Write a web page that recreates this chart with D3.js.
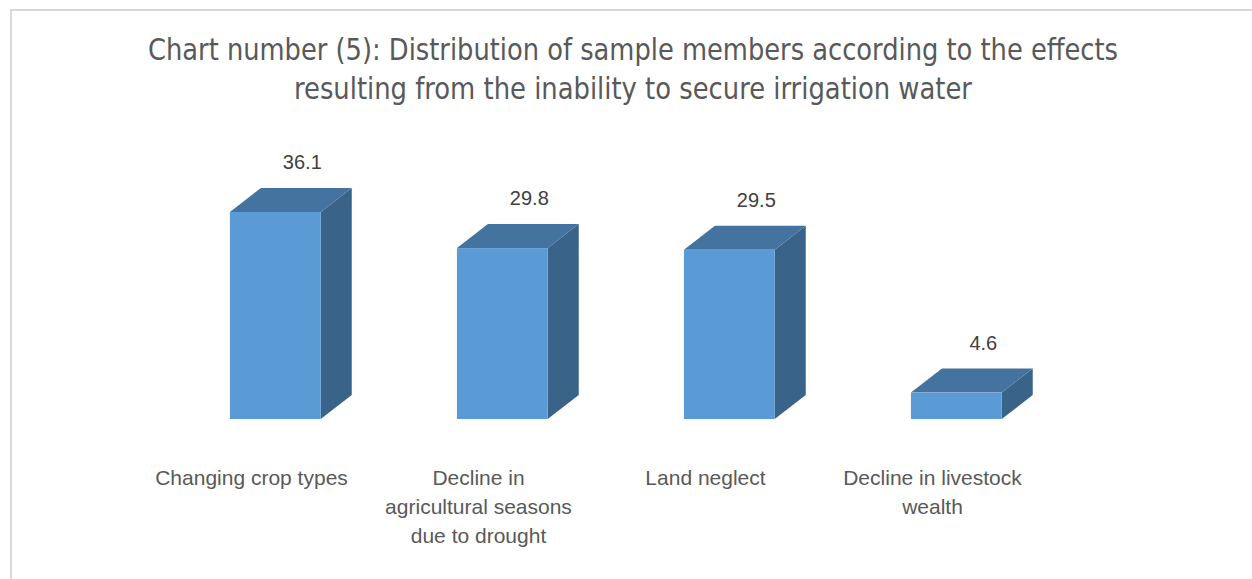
<!DOCTYPE html>
<html lang="en">
<head>
<meta charset="utf-8">
<title>Chart number (5)</title>
<script src="https://cdn.jsdelivr.net/npm/d3@7/dist/d3.min.js"></script>
<style>
  body { margin: 0; background: #fff; }
  .title { font-family: "Liberation Sans Narrow", "DejaVu Sans Condensed", "Liberation Sans", sans-serif; fill: #595959; }
  .lbl { font-family: "Liberation Sans", Arial, sans-serif; fill: #404040; }
  .cat { font-family: "Liberation Sans", Arial, sans-serif; fill: #595959; }
</style>
</head>
<body>
<script>
// data
var categories = ["Changing crop types", "Decline in agricultural seasons due to drought", "Land neglect", "Decline in livestock wealth"];
var values = [36.1, 29.8, 29.5, 4.6];
var catLines = [["Changing crop types"], ["Decline in", "agricultural seasons", "due to drought"], ["Land neglect"], ["Decline in livestock", "wealth"]];
var titleLines = ["Chart number (5): Distribution of sample members according to the effects",
                  "resulting from the inability to secure irrigation water"];

var W = 1252, H = 579;
var depthX = 31, depthY = 24;

var svg = d3.select("body").append("svg")
    .attr("width", W).attr("height", H);

// chart border (only top and left visible in the crop)
svg.append("rect")
    .attr("x", 11).attr("y", 10)
    .attr("width", W + 20).attr("height", H + 20)
    .attr("fill", "#fff")
    .attr("stroke", "#d9d9d9").attr("stroke-width", 2);

// title
svg.selectAll(".title").data(titleLines).enter().append("text")
    .attr("class", "title")
    .attr("x", 633)
    .attr("y", function(d, i) { return 60 + i * 39; })
    .attr("text-anchor", "middle")
    .style("font-size", "30px")
    .attr("textLength", function(d, i) { return i == 0 ? 970 : 678; })
    .attr("lengthAdjust", "spacingAndGlyphs")
    .text(function(d) { return d; });

var x = d3.scaleBand().domain(categories).range([138, 1046]);
var y = d3.scaleLinear().domain([0, 40]).range([419, 189.6]);

var data = categories.map(function(c, i) { return {cat: c, v: values[i], lines: catLines[i]}; });

function fx(d) { return x(d.cat) + x.bandwidth() * 0.405; }
var bw = x.bandwidth() * 0.4;

var bars = svg.selectAll(".bar").data(data).enter().append("g").attr("class", "bar");

// side face
bars.append("path")
    .attr("fill", "#3a6389")
    .attr("d", function(d) {
      var x1 = fx(d) + bw, y0 = y(0), y1 = y(d.v);
      return "M" + x1 + "," + y0 + "L" + x1 + "," + y1 +
             "L" + (x1 + depthX) + "," + (y1 - depthY) +
             "L" + (x1 + depthX) + "," + (y0 - depthY) + "Z";
    });

// top face
bars.append("path")
    .attr("fill", "#44739f")
    .attr("d", function(d) {
      var x0 = fx(d), y1 = y(d.v);
      return "M" + x0 + "," + y1 + "L" + (x0 + depthX) + "," + (y1 - depthY) +
             "L" + (x0 + bw + depthX) + "," + (y1 - depthY) +
             "L" + (x0 + bw) + "," + y1 + "Z";
    });

// front face
bars.append("rect")
    .attr("fill", "#5b9bd5")
    .attr("x", fx)
    .attr("y", function(d) { return y(d.v); })
    .attr("width", bw)
    .attr("height", function(d) { return y(0) - y(d.v); });

// value labels
svg.selectAll(".lbl").data(data).enter().append("text")
    .attr("class", "lbl")
    .attr("x", function(d) { return fx(d) + bw / 2 + 27; })
    .attr("y", function(d) { return y(d.v) - depthY - 19; })
    .attr("text-anchor", "middle")
    .style("font-size", "20px")
    .text(function(d) { return d.v.toFixed(1); });

// category labels
var cats = svg.selectAll(".cat").data(data).enter().append("text")
    .attr("class", "cat")
    .attr("text-anchor", "middle")
    .style("font-size", "21px");

cats.selectAll("tspan").data(function(d) { return d.lines.map(function(l) { return {l: l, c: d.cat}; }); })
    .enter().append("tspan")
    .attr("x", function(d) { return x(d.c) + x.bandwidth() / 2; })
    .attr("y", function(d, i) { return 485 + i * 29; })
    .text(function(d) { return d.l; });
</script>
</body>
</html>
